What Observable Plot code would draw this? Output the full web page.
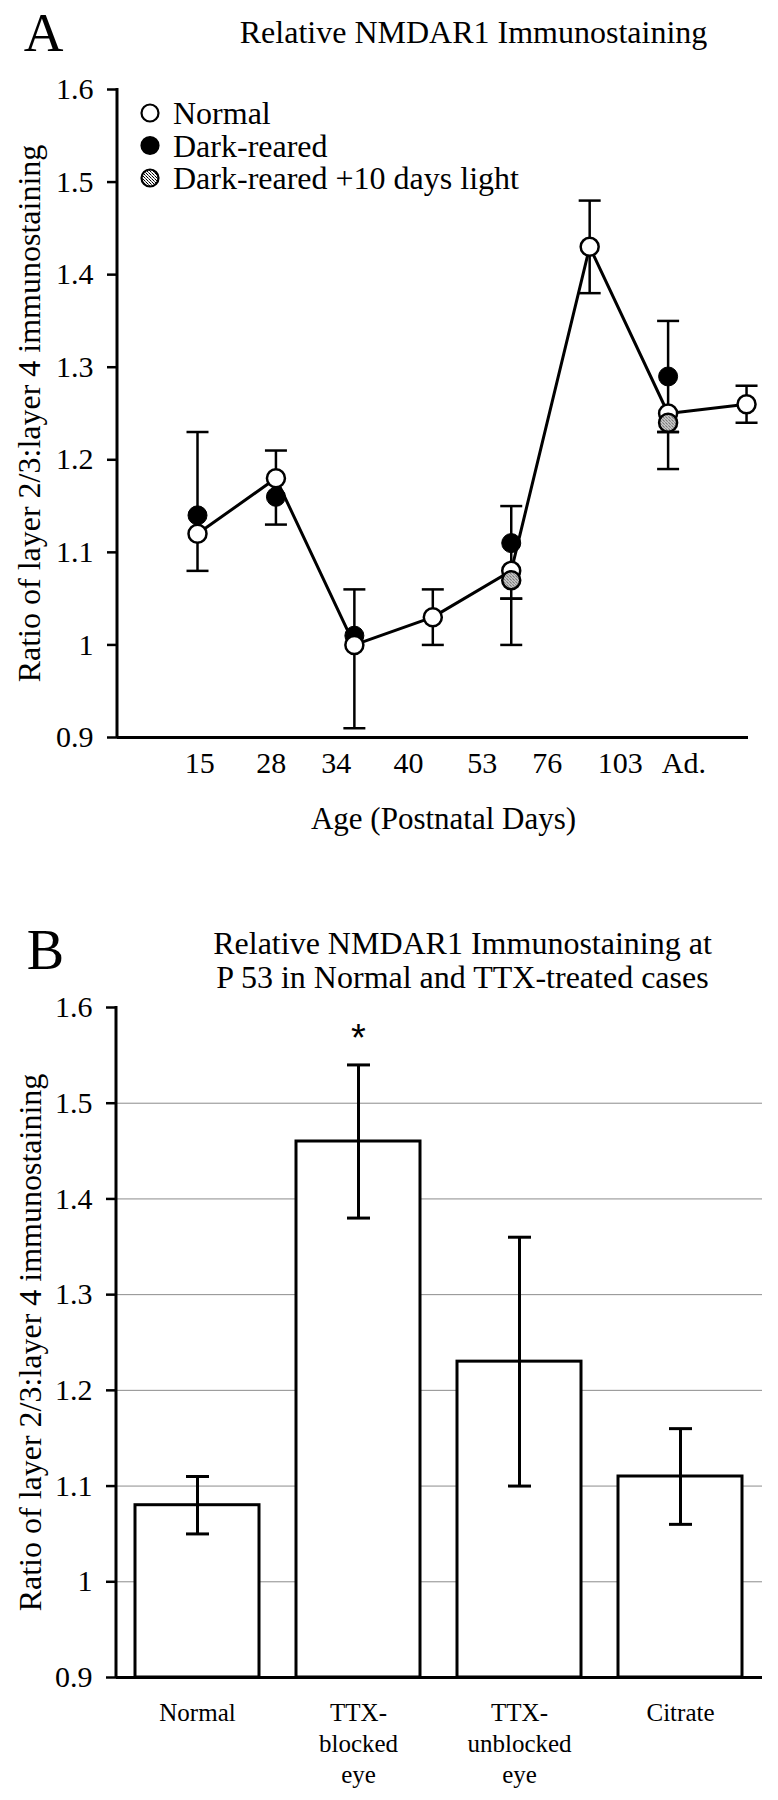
<!DOCTYPE html>
<html>
<head>
<meta charset="utf-8">
<script src="https://cdn.jsdelivr.net/npm/d3@7"></script>
<script src="https://cdn.jsdelivr.net/npm/@observablehq/plot@0.6"></script>
<style>
  body { margin: 0; background: #fff; }
  #chart { width: 778px; height: 1800px; overflow: hidden; background: #fff; }
  #chart svg { display: block; }
</style>
</head>
<body>
<div id="chart"></div>
<script>
// ---------- Panel A data ----------
const ageLabels   = ["15", "28", "34", "40", "53", "76", "103", "Ad."];
const ageLabelPos = [0.03, 0.94, 1.77, 2.69, 3.63, 4.46, 5.39, 6.2];   // label positions (point index units)
const ageIndex    = [0, 1, 2, 3, 4, 5, 6, 7];
const normal      = [1.12, 1.18, 1.00, 1.03, 1.08, 1.43, 1.25, 1.26];
const darkReared  = [1.14, 1.16, 1.01, null, 1.11, null, 1.29, null];
const darkLight   = [null, null, null, null, 1.07, null, 1.24, null];
const errIndexA   = [0, 1, 2, 3, 4, 4, 5, 6, 6, 7];
const errLowA     = [1.08, 1.13, 0.91, 1.00, 1.05, 1.00, 1.38, 1.23, 1.19, 1.24];
const errHighA    = [1.23, 1.21, 1.06, 1.06, 1.15, 1.05, 1.48, 1.35, 1.23, 1.28];
const legendItems = ["Normal", "Dark-reared", "Dark-reared +10 days light"];
const legendFills = ["white", "black", "url(#dots)"];

// ---------- Panel B data ----------
const cats      = ["Normal", "TTX-blocked eye", "TTX-unblocked eye", "Citrate"];
const catLabels = ["Normal", "TTX-\nblocked\neye", "TTX-\nunblocked\neye", "Citrate"];
const meansB    = [1.08, 1.46, 1.23, 1.11];
const errLowB   = [1.05, 1.38, 1.10, 1.06];
const errHighB  = [1.11, 1.54, 1.36, 1.16];
const sigB      = ["", "*", "", ""];
const gridB     = [1.0, 1.1, 1.2, 1.3, 1.4, 1.5];

// ---------- shared ----------
const yTicks = [0.9, 1, 1.1, 1.2, 1.3, 1.4, 1.5, 1.6];
const yMin = 0.9, yMax = 1.6;
const serif = "'Liberation Serif', 'Times New Roman', serif";
const ns = "http://www.w3.org/2000/svg";
const yTitle = "Ratio of layer 2/3:layer 4 immunostaining";

function el(tag, attrs) {
  const e = document.createElementNS(ns, tag);
  for (const k in attrs) e.setAttribute(k, attrs[k]);
  return e;
}
const capSymbol = { draw(ctx, size) { const h = Math.sqrt(size / Math.PI); ctx.moveTo(-h, 0); ctx.lineTo(h, 0); } };

const yAxisLine = (index, scales, values, dims) =>
  el("line", {x1: dims.marginLeft, x2: dims.marginLeft, y1: dims.marginTop - 1,
              y2: dims.height - dims.marginBottom, stroke: "black", "stroke-width": 3});

const legendA = (index, scales, values, dims) => {
  const g = el("g", {"text-anchor": "start"});
  const defs = el("defs", {});
  const pat = el("pattern", {id: "dots", width: 3, height: 3, patternUnits: "userSpaceOnUse"});
  pat.appendChild(el("rect", {width: 3, height: 3, fill: "#f4f4f4"}));
  pat.appendChild(el("rect", {x: 0, y: 0, width: 1, height: 1, fill: "black"}));
  pat.appendChild(el("rect", {x: 1, y: 1, width: 1, height: 1, fill: "#555"}));
  pat.appendChild(el("rect", {x: 2, y: 2, width: 1, height: 1, fill: "black"}));
  defs.appendChild(pat);
  g.appendChild(defs);
  legendItems.forEach((t, k) => {
    const cy = dims.marginTop + 24 + k * 32.5;
    const cx = dims.marginLeft + 33;
    g.appendChild(el("circle", {cx, cy, r: 8.5, fill: legendFills[k], stroke: "black", "stroke-width": 2.2}));
    const tx = el("text", {x: dims.marginLeft + 56, y: cy + 11, "font-size": 32, "font-family": serif,
                           fill: "black", "text-anchor": "start"});
    tx.textContent = t;
    g.appendChild(tx);
  });
  return g;
};

// ---------- Panel A ----------
const ptsA = ageIndex.map((i, k) => ({i, normal: normal[k], dark: darkReared[k], light: darkLight[k]}));
const errA = errIndexA.map((i, k) => ({i, lo: errLowA[k], hi: errHighA[k]}));
const capsA = errA.flatMap(d => [{i: d.i, v: d.lo}, {i: d.i, v: d.hi}]);
const xLabA = ageLabels.map((t, k) => ({pos: ageLabelPos[k], t}));

const plotA = Plot.plot({
  width: 778, height: 860,
  marginLeft: 117, marginRight: 30, marginTop: 89, marginBottom: 123,
  style: {fontFamily: serif, fontSize: "30px", color: "black", background: "white", overflow: "visible"},
  x: {domain: [-1.02, 7.025], axis: null},
  y: {domain: [yMin, yMax], axis: null},
  marks: [
    Plot.axisY(yTicks, {tickSize: 10, tickPadding: 14, tickFormat: d => String(d), fontSize: 30, strokeWidth: 2.5, label: null}),
    yAxisLine,
    Plot.ruleY([yMin], {strokeWidth: 3}),
    Plot.text(xLabA, {x: "pos", text: "t", frameAnchor: "bottom", dy: 14, lineAnchor: "top", fontSize: 30}),
    Plot.ruleX(errA, {x: "i", y1: "lo", y2: "hi", strokeWidth: 2.5}),
    Plot.dot(capsA, {x: "i", y: "v", symbol: capSymbol, r: 11, stroke: "black", fill: "none", strokeWidth: 2.5}),
    Plot.dot(ptsA.filter(d => d.dark != null), {x: "i", y: "dark", r: 9.5, fill: "black", stroke: "black", strokeWidth: 1}),
    Plot.line(ptsA, {x: "i", y: "normal", stroke: "black", strokeWidth: 3}),
    Plot.dot(ptsA, {x: "i", y: "normal", r: 9, fill: "white", stroke: "black", strokeWidth: 2.5}),
    Plot.dot(ptsA.filter(d => d.light != null), {x: "i", y: "light", r: 9, fill: "url(#dots)", stroke: "black", strokeWidth: 2.5}),
    legendA,
    Plot.text(["A"], {frameAnchor: "top-left", lineAnchor: "middle", dx: 43 - 117, dy: 33 - 89, fontSize: 55, textAnchor: "middle"}),
    Plot.text(["Relative NMDAR1 Immunostaining"], {frameAnchor: "top-left", lineAnchor: "middle", dx: 473 - 117, dy: 32 - 89, fontSize: 32, textAnchor: "middle"}),
    Plot.text(["Age (Postnatal Days)"], {frameAnchor: "bottom-left", lineAnchor: "middle", dx: 443 - 117, dy: 819 - 737, fontSize: 31, textAnchor: "middle"}),
    Plot.text([yTitle], {frameAnchor: "left", lineAnchor: "middle", dx: -88, rotate: -90, fontSize: 32, textAnchor: "middle"})
  ]
});

// ---------- Panel B ----------
const barsB = cats.map((c, k) => ({cat: c, label: catLabels[k], mean: meansB[k], lo: errLowB[k], hi: errHighB[k], sig: sigB[k]}));
const capsB = barsB.flatMap(d => [{cat: d.cat, v: d.lo}, {cat: d.cat, v: d.hi}]);

const plotB = Plot.plot({
  width: 778, height: 940,
  marginLeft: 116, marginRight: 16, marginTop: 147, marginBottom: 123,
  style: {fontFamily: serif, fontSize: "30px", color: "black", background: "white", overflow: "visible"},
  x: {type: "band", domain: cats, paddingInner: 0.228, paddingOuter: 0.111, axis: null},
  y: {domain: [yMin, yMax], axis: null},
  marks: [
    Plot.ruleY(gridB, {stroke: "#8c8c8c", strokeWidth: 1}),
    Plot.barY(barsB, {x: "cat", y1: () => yMin, y2: "mean", fill: "white", stroke: "black", strokeWidth: 3}),
    Plot.ruleX(barsB, {x: "cat", y1: "lo", y2: "hi", strokeWidth: 3}),
    Plot.dot(capsB, {x: "cat", y: "v", symbol: capSymbol, r: 11.5, stroke: "black", fill: "none", strokeWidth: 3}),
    Plot.ruleY([yMin], {strokeWidth: 3}),
    yAxisLine,
    Plot.axisY(yTicks, {tickSize: 10, tickPadding: 14, tickFormat: d => String(d), fontSize: 30, strokeWidth: 2.5, label: null}),
    Plot.text(barsB, {x: "cat", text: "label", frameAnchor: "bottom", dy: 21, lineAnchor: "top", fontSize: 25, lineHeight: 1.24}),
    Plot.text(barsB.filter(d => d.sig), {x: "cat", y: "hi", text: "sig", lineAnchor: "middle", dy: -26, fontSize: 38, fontFamily: "'Liberation Sans', Arial, sans-serif"}),
    Plot.text(["B"], {frameAnchor: "top-left", lineAnchor: "middle", dx: 45 - 116, dy: 91 - 147, fontSize: 56, textAnchor: "middle"}),
    Plot.text(["Relative NMDAR1 Immunostaining at\nP 53 in Normal and TTX-treated cases"], {frameAnchor: "top-left", lineAnchor: "middle", dx: 462 - 116, dy: 100 - 147, fontSize: 32, lineHeight: 1.06, textAnchor: "middle"}),
    Plot.text([yTitle], {frameAnchor: "left", lineAnchor: "middle", dx: -86, rotate: -90, fontSize: 32, textAnchor: "middle"})
  ]
});

const chart = document.getElementById("chart");
chart.appendChild(plotA);
chart.appendChild(plotB);
</script>
</body>
</html>
